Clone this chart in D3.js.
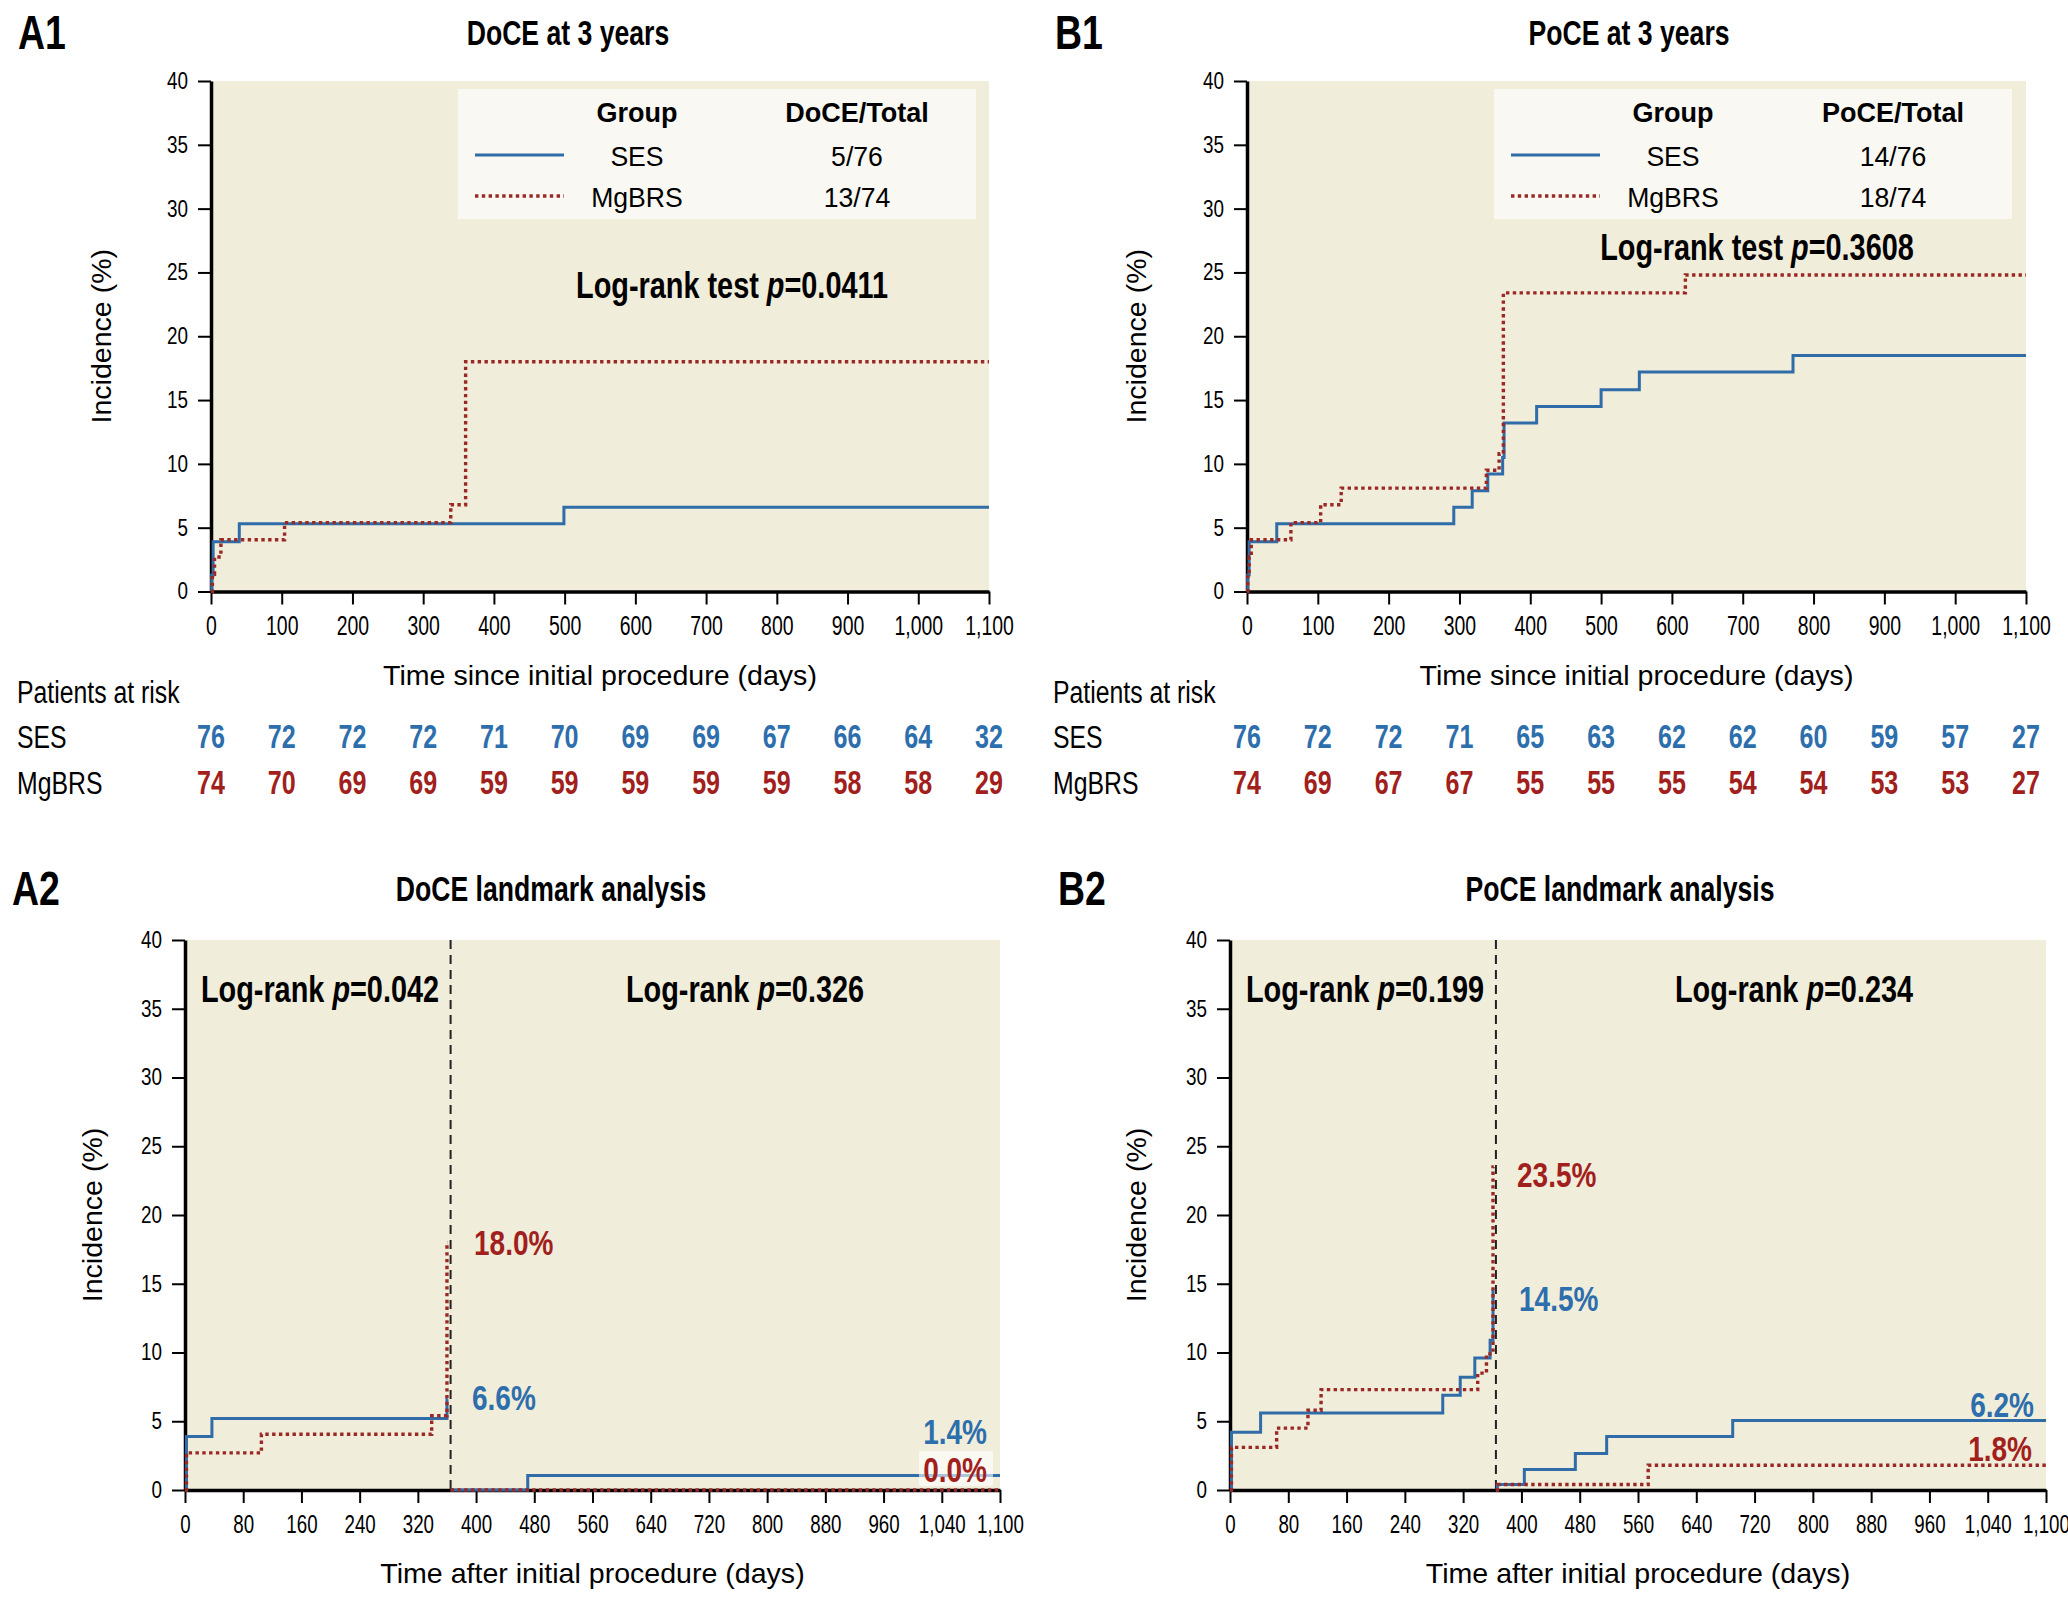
<!DOCTYPE html>
<html>
<head>
<meta charset="utf-8">
<script src="https://cdn.jsdelivr.net/npm/d3@7"></script>
<style>
  body { margin: 0; background: #fff; }
  text { font-family: "Liberation Sans", Arial, sans-serif; fill: #000; }
</style>
</head>
<body>
<svg id="chart" width="2068" height="1602"></svg>
<script>
// ---- data ----
const pctTicks = [0, 5, 10, 15, 20, 25, 30, 35, 40];
const dayTicks3y = [0, 100, 200, 300, 400, 500, 600, 700, 800, 900, 1000, 1100];
const dayLabels3y = ["0", "100", "200", "300", "400", "500", "600", "700", "800", "900", "1,000", "1,100"];
const dayTicksLm = [0, 80, 160, 240, 320, 400, 480, 560, 640, 720, 800, 880, 960, 1040, 1120];
const dayLabelsLm = ["0", "80", "160", "240", "320", "400", "480", "560", "640", "720", "800", "880", "960", "1,040", "1,100"];
const landmarkDay = 365;

const groups = ["SES", "MgBRS"];

// A1: DoCE at 3 years
const doceSesDays = [0, 1, 3, 40, 499, 1100];
const doceSesPct = [0, 1.3, 3.9, 5.3, 6.6, 6.6];
const doceMgDays = [0, 2, 5, 14, 104, 339, 360, 1100];
const doceMgPct = [0, 1.35, 2.7, 4.05, 5.4, 6.8, 18.0, 18.0];
const doceCounts = ["5/76", "13/74"];
const doceRiskSes = [76, 72, 72, 72, 71, 70, 69, 69, 67, 66, 64, 32];
const doceRiskMg = [74, 70, 69, 69, 59, 59, 59, 59, 59, 58, 58, 29];

// B1: PoCE at 3 years
const poceSesDays = [0, 1, 3, 42, 292, 318, 340, 361, 363, 409, 500, 554, 771, 1100];
const poceSesPct = [0, 1.3, 3.9, 5.3, 6.6, 7.9, 9.2, 10.5, 13.2, 14.5, 15.8, 17.2, 18.5, 18.5];
const poceMgDays = [0, 1, 3, 6, 62, 104, 133, 338, 356, 362, 619, 1100];
const poceMgPct = [0, 1.35, 2.7, 4.05, 5.4, 6.8, 8.1, 9.5, 10.8, 23.4, 24.8, 24.8];
const poceCounts = ["14/76", "18/74"];
const poceRiskSes = [76, 72, 72, 71, 65, 63, 62, 62, 60, 59, 57, 27];
const poceRiskMg = [74, 69, 67, 67, 55, 55, 55, 54, 54, 53, 53, 27];

// A2: DoCE landmark
const lmDoceSesEarlyDays = [0, 2, 37, 360, 361];
const lmDoceSesEarlyPct = [0, 3.9, 5.2, 6.6, 6.6];
const lmDoceMgEarlyDays = [0, 2, 105, 339, 360, 361];
const lmDoceMgEarlyPct = [0, 2.7, 4.05, 5.4, 18.0, 18.0];
const lmDoceSesLateDays = [365, 471, 1120];
const lmDoceSesLatePct = [0, 1.05, 1.05];
const lmDoceMgLateDays = [365, 1120];
const lmDoceMgLatePct = [0, 0];
const lmDoceP = ["0.042", "0.326"];
const lmDoceEndLabels = ["18.0%", "6.6%", "1.4%", "0.0%"];

// B2: PoCE landmark
const lmPoceSesEarlyDays = [0, 2, 42, 292, 316, 336, 357, 361, 362];
const lmPoceSesEarlyPct = [0, 4.2, 5.6, 6.9, 8.2, 9.6, 10.9, 14.5, 14.5];
const lmPoceMgEarlyDays = [0, 2, 64, 107, 125, 340, 352, 361, 362];
const lmPoceMgEarlyPct = [0, 3.1, 4.5, 5.8, 7.3, 8.5, 9.9, 23.5, 23.5];
const lmPoceSesLateDays = [365, 367, 404, 474, 517, 690, 1120];
const lmPoceSesLatePct = [0, 0.4, 1.5, 2.65, 3.9, 5.05, 5.05];
const lmPoceMgLateDays = [365, 367, 574, 1120];
const lmPoceMgLatePct = [0, 0.4, 1.8, 1.8];
const lmPoceP = ["0.199", "0.234"];
const lmPoceEndLabels = ["23.5%", "14.5%", "6.2%", "1.8%"];

// ---- style ----
const BG = "#f1eddb";
const LEGEND_BG = "#f9f8f2";
const BLUE = "#2f6ca8";
const RED = "#9a2926";
const BLUE_TXT = "#2d6eac";
const RED_TXT = "#a11f1d";
const DOTS = "3.4,3.4";

const svg = d3.select("#chart");
svg.append("rect").attr("width", 2068).attr("height", 1602).attr("fill", "#fff");

// squeeze text horizontally to imitate the condensed face of the original
const squeeze = (sel, k) => {
  sel.each(function () {
    const n = this.getComputedTextLength();
    d3.select(this).attr("textLength", n * k).attr("lengthAdjust", "spacingAndGlyphs");
  });
  return sel;
};

const label = (g, x, y, str, size, opts = {}) => {
  const t = g.append("text")
    .attr("x", x)
    .attr("y", y)
    .attr("font-size", size)
    .attr("font-weight", opts.bold ? "bold" : "normal")
    .attr("text-anchor", opts.anchor || "start")
    .style("fill", opts.color || "#000")
    .text(str);
  return squeeze(t, opts.k || 1);
};

const pText = (g, x, y, pre, val, size, k) => {
  const t = g.append("text")
    .attr("x", x)
    .attr("y", y)
    .attr("font-size", size)
    .attr("font-weight", "bold")
    .attr("text-anchor", "middle");
  t.append("tspan").text(pre);
  t.append("tspan").attr("font-style", "italic").text("p");
  t.append("tspan").text("=" + val);
  return squeeze(t, k);
};

const stepLine = (x, y) => d3.line()
  .curve(d3.curveStepAfter)
  .x(d => x(d[0]))
  .y(d => y(d[1]));

const drawSeries = (g, x, y, days, pct, dotted) => {
  g.append("path")
    .datum(d3.zip(days, pct))
    .attr("fill", "none")
    .attr("stroke", dotted ? RED : BLUE)
    .attr("stroke-width", dotted ? 3.4 : 3)
    .attr("stroke-dasharray", dotted ? DOTS : null)
    .attr("d", stepLine(x, y));
};

const drawFrame = (cfg) => {
  const g = svg.append("g");
  const x = d3.scaleLinear().domain(cfg.domain).range([cfg.left, cfg.right]);
  const y = d3.scaleLinear().domain([0, 40]).range([cfg.bottom, cfg.top]);

  g.append("rect")
    .attr("x", cfg.left)
    .attr("y", cfg.top)
    .attr("width", cfg.right - cfg.left)
    .attr("height", cfg.bottom - cfg.top)
    .attr("fill", BG);

  const xAxis = g.append("g")
    .attr("transform", `translate(0,${cfg.bottom})`)
    .call(d3.axisBottom(x)
      .tickValues(cfg.ticks)
      .tickFormat((d, i) => cfg.tickLabels[i])
      .tickSize(13)
      .tickSizeOuter(0)
      .tickPadding(cfg.tickPad));
  xAxis.select(".domain").attr("stroke-width", 3.5);
  xAxis.selectAll(".tick line").attr("stroke-width", 2);
  xAxis.selectAll(".tick text").attr("font-size", cfg.tickFont).attr("font-family", null);
  squeeze(xAxis.selectAll(".tick text"), cfg.tickK);

  const yAxis = g.append("g")
    .attr("transform", `translate(${cfg.left},0)`)
    .call(d3.axisLeft(y)
      .tickValues(pctTicks)
      .tickSize(13)
      .tickSizeOuter(0)
      .tickPadding(10));
  yAxis.select(".domain").attr("stroke-width", 3.5);
  yAxis.selectAll(".tick line").attr("stroke-width", 2);
  yAxis.selectAll(".tick text").attr("font-size", 23).attr("font-family", null);
  squeeze(yAxis.selectAll(".tick text"), 0.82);

  g.append("text")
    .attr("transform", `translate(${cfg.yTitleX},${(cfg.top + cfg.bottom) / 2}) rotate(-90)`)
    .attr("text-anchor", "middle")
    .attr("dominant-baseline", "central")
    .attr("font-size", 28)
    .text("Incidence (%)")
    .call(s => squeeze(s, 1.02));

  label(g, (cfg.left + cfg.right) / 2, cfg.bottom + 93, cfg.xTitle, 28, { anchor: "middle", k: 1.02 });
  label(g, cfg.letterX, cfg.letterY, cfg.letter, 48, { bold: true, k: 0.78 });
  label(g, cfg.titleX, cfg.letterY - 4, cfg.title, 35, { bold: true, anchor: "middle", k: 0.76 });

  return { g, x, y };
};

const drawLegend = (g, left, header, counts) => {
  g.append("rect")
    .attr("x", left).attr("y", 89)
    .attr("width", 518).attr("height", 130)
    .attr("fill", LEGEND_BG);
  label(g, left + 179, 122, "Group", 27, { bold: true, anchor: "middle" });
  label(g, left + 399, 122, header, 27, { bold: true, anchor: "middle" });
  groups.forEach((name, i) => {
    const yy = 155 + i * 41;
    g.append("line")
      .attr("x1", left + 17).attr("x2", left + 106)
      .attr("y1", yy).attr("y2", yy)
      .attr("stroke", i ? RED : BLUE)
      .attr("stroke-width", i ? 3.4 : 3)
      .attr("stroke-dasharray", i ? DOTS : null);
    label(g, left + 179, yy + 11, name, 28, { anchor: "middle", k: 0.95 });
    label(g, left + 399, yy + 11, counts[i], 28, { anchor: "middle", k: 0.95 });
  });
};

const drawRisk = (g, x, left, ses, mg) => {
  label(g, left, 703, "Patients at risk", 31, { k: 0.8 });
  [ses, mg].forEach((row, i) => {
    const yy = 748 + i * 46;
    label(g, left, yy, groups[i], 31, { k: 0.8 });
    row.forEach((n, j) => {
      label(g, x(dayTicks3y[j]), yy, String(n), 33, {
        bold: true, anchor: "middle", k: 0.76, color: i ? RED_TXT : BLUE_TXT
      });
    });
  });
};

// ---- A1 ----
const a1 = drawFrame({
  left: 211, right: 989, top: 81, bottom: 591.5,
  domain: [0, 1100], ticks: dayTicks3y, tickLabels: dayLabels3y,
  tickPad: 11, tickFont: 27, tickK: 0.72, yTitleX: 101,
  xTitle: "Time since initial procedure (days)",
  letter: "A1", letterX: 18, letterY: 49, title: "DoCE at 3 years", titleX: 568
});
drawLegend(a1.g, 458, "DoCE/Total", doceCounts);
drawSeries(a1.g, a1.x, a1.y, doceSesDays, doceSesPct, false);
drawSeries(a1.g, a1.x, a1.y, doceMgDays, doceMgPct, true);
pText(a1.g, 732, 298, "Log-rank test ", "0.0411", 37, 0.78);
drawRisk(a1.g, a1.x, 17, doceRiskSes, doceRiskMg);

// ---- B1 ----
const b1 = drawFrame({
  left: 1247, right: 2026, top: 81, bottom: 591.5,
  domain: [0, 1100], ticks: dayTicks3y, tickLabels: dayLabels3y,
  tickPad: 11, tickFont: 27, tickK: 0.72, yTitleX: 1136,
  xTitle: "Time since initial procedure (days)",
  letter: "B1", letterX: 1055, letterY: 49, title: "PoCE at 3 years", titleX: 1629
});
drawLegend(b1.g, 1494, "PoCE/Total", poceCounts);
drawSeries(b1.g, b1.x, b1.y, poceSesDays, poceSesPct, false);
drawSeries(b1.g, b1.x, b1.y, poceMgDays, poceMgPct, true);
pText(b1.g, 1757, 260, "Log-rank test ", "0.3608", 37, 0.78);
drawRisk(b1.g, b1.x, 1053, poceRiskSes, poceRiskMg);

// ---- landmark panels ----
const drawLandmark = (cfg, s) => {
  const p = drawFrame(cfg);
  const lx = p.x(landmarkDay);
  p.g.append("line")
    .attr("x1", lx).attr("x2", lx)
    .attr("y1", cfg.top).attr("y2", cfg.bottom)
    .attr("stroke", "#222").attr("stroke-width", 2)
    .attr("stroke-dasharray", "9,6");
  drawSeries(p.g, p.x, p.y, s.sesEarly[0], s.sesEarly[1], false);
  drawSeries(p.g, p.x, p.y, s.mgEarly[0], s.mgEarly[1], true);
  drawSeries(p.g, p.x, p.y, s.sesLate[0], s.sesLate[1], false);
  drawSeries(p.g, p.x, p.y, s.mgLate[0], s.mgLate[1], true);
  pText(p.g, cfg.pX[0], 1002, "Log-rank ", s.p[0], 37, 0.78);
  pText(p.g, cfg.pX[1], 1002, "Log-rank ", s.p[1], 37, 0.78);
  return p;
};

const a2 = drawLandmark({
  left: 185, right: 1000, top: 940, bottom: 1490,
  domain: [0, 1120], ticks: dayTicksLm, tickLabels: dayLabelsLm,
  tickPad: 12, tickFont: 26, tickK: 0.72, yTitleX: 92,
  xTitle: "Time after initial procedure (days)",
  letter: "A2", letterX: 12, letterY: 905, title: "DoCE landmark analysis", titleX: 551,
  pX: [320, 745]
}, {
  sesEarly: [lmDoceSesEarlyDays, lmDoceSesEarlyPct],
  mgEarly: [lmDoceMgEarlyDays, lmDoceMgEarlyPct],
  sesLate: [lmDoceSesLateDays, lmDoceSesLatePct],
  mgLate: [lmDoceMgLateDays, lmDoceMgLatePct],
  p: lmDoceP
});
label(a2.g, 474, 1255, lmDoceEndLabels[0], 35, { bold: true, k: 0.8, color: RED_TXT });
label(a2.g, 472, 1410, lmDoceEndLabels[1], 35, { bold: true, k: 0.8, color: BLUE_TXT });
label(a2.g, 987, 1444, lmDoceEndLabels[2], 35, { bold: true, k: 0.8, anchor: "end", color: BLUE_TXT });
a2.g.append("rect")
  .attr("x", 919).attr("y", 1451).attr("width", 74).attr("height", 35)
  .attr("fill", "#fff").attr("fill-opacity", 0.6);
label(a2.g, 987, 1482, lmDoceEndLabels[3], 35, { bold: true, k: 0.8, anchor: "end", color: RED_TXT });

const b2 = drawLandmark({
  left: 1230, right: 2046, top: 940, bottom: 1490,
  domain: [0, 1120], ticks: dayTicksLm, tickLabels: dayLabelsLm,
  tickPad: 12, tickFont: 26, tickK: 0.72, yTitleX: 1136,
  xTitle: "Time after initial procedure (days)",
  letter: "B2", letterX: 1058, letterY: 905, title: "PoCE landmark analysis", titleX: 1620,
  pX: [1365, 1794]
}, {
  sesEarly: [lmPoceSesEarlyDays, lmPoceSesEarlyPct],
  mgEarly: [lmPoceMgEarlyDays, lmPoceMgEarlyPct],
  sesLate: [lmPoceSesLateDays, lmPoceSesLatePct],
  mgLate: [lmPoceMgLateDays, lmPoceMgLatePct],
  p: lmPoceP
});
label(b2.g, 1517, 1187, lmPoceEndLabels[0], 35, { bold: true, k: 0.8, color: RED_TXT });
label(b2.g, 1519, 1311, lmPoceEndLabels[1], 35, { bold: true, k: 0.8, color: BLUE_TXT });
label(b2.g, 2034, 1417, lmPoceEndLabels[2], 35, { bold: true, k: 0.8, anchor: "end", color: BLUE_TXT });
label(b2.g, 2032, 1461, lmPoceEndLabels[3], 35, { bold: true, k: 0.8, anchor: "end", color: RED_TXT });
</script>
</body>
</html>
